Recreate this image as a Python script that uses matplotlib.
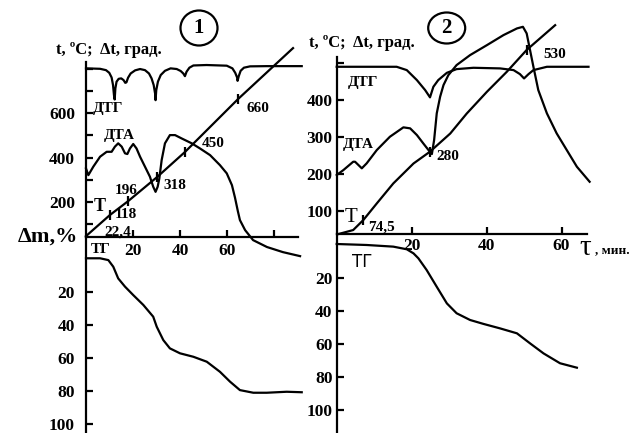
# LIBRARIES

import matplotlib
matplotlib.use("Agg")
import matplotlib.pyplot as plt
from matplotlib.patches import Ellipse
from matplotlib.ticker import FixedLocator, FixedFormatter


# DATA  (time in min, temperature / signal in deg C scale, mass loss in %)

# sample 1
t1_T = [0, 10.2, 17.9, 30.2, 42.1, 64.7, 88.1]
T1 = [47, 142, 204, 312, 425, 663, 892]
T1_events = [1, 2, 3, 4, 5]
T1_labels = ["118", "196", "318", "450", "660"]

t1_dtg = [0, 6.0, 8.5, 9.9, 10.9, 11.5, 11.9, 12.2, 12.5, 13.0, 13.9, 15.0, 16.0,
          16.7, 17.2, 17.9, 19.0, 20.9, 23.0, 25.1, 26.8, 27.9, 28.8, 29.4, 29.6,
          29.9, 30.6, 31.8, 33.6, 36.0, 38.6, 40.3, 41.4, 42.1, 42.8, 44.0, 45.7,
          51.3, 59.9, 62.3, 63.5, 64.3, 64.5, 65.0, 65.8, 67.2, 69.8, 76.9, 91.8]
dtg1 = [801, 799, 793, 781, 760, 726, 681, 661, 711, 741, 754, 756, 748,
        736, 738, 759, 778, 792, 798, 793, 778, 756, 726, 688, 658,
        703, 741, 771, 790, 801, 798, 789, 778, 766, 786, 804, 814,
        816, 813, 801, 781, 760, 745, 766, 790, 804, 810, 811, 811]

t1_dta = [0, 1.0, 3.1, 6.0, 8.8, 10.9, 12.3, 13.7, 15.2, 16.6, 17.6, 18.7, 20.1,
          21.5, 23.0, 25.1, 27.2, 28.6, 29.6, 30.5, 31.2, 32.2, 33.6, 35.7, 37.9,
          40.7, 45.0, 48.5, 52.8, 57.0, 59.9, 62.1, 63.4, 64.6, 65.5, 67.7, 71.1,
          77.0, 83.8, 91.1]
dta1 = [351, 321, 359, 404, 426, 426, 449, 464, 449, 419, 416, 441, 461,
        441, 404, 359, 314, 269, 246, 269, 306, 389, 464, 501, 501,
        486, 464, 441, 411, 366, 329, 276, 220, 160, 119, 74, 29,
        -2, -25, -43]

t1_tg = [0, 6.0, 9.5, 11.6, 13.7, 16.6, 20.1, 24.4, 28.6, 30.1, 32.9, 35.7, 40.0,
         45.7, 51.4, 57.0, 61.3, 65.5, 71.2, 76.9, 85.4, 91.8]
tg1 = [-0.4, -0.4, 0.7, 4.7, 11.8, 16.8, 21.9, 27.9, 35.0, 41.1, 49.2, 54.2, 57.2,
       59.3, 62.3, 68.4, 74.4, 79.5, 81.1, 81.1, 80.5, 80.8]

# sample 2
t2_T = [0.4, 4.4, 7.1, 10.7, 15.1, 20.5, 24.9, 30.3, 34.7, 40.1, 45.4, 50.7, 58.3]
T2 = [37, 48, 75, 120, 174, 228, 260, 309, 363, 422, 476, 535, 602]
T2_events = [2, 6, 11]
T2_labels = ["74,5", "280", "530"]

t2_dtg = [0, 16.0, 18.7, 21.4, 23.6, 24.9, 25.8, 27.1, 29.4, 32.0, 36.5, 43.6,
          47.2, 48.9, 50.0, 51.2, 52.5, 56.1, 67.2]
dtg2 = [489.5, 489.5, 480.5, 453.5, 426.5, 406.8, 435.4, 453.5, 473.2, 483.2,
        486.8, 485.1, 480.5, 469.7, 458, 469.7, 480.5, 489.5, 489.5]

t2_dta = [0, 1.8, 4.4, 4.9, 6.7, 8.0, 10.7, 14.2, 17.8, 19.6, 21.4, 23.1, 24.5,
          25.4, 26.0, 26.7, 27.6, 28.5, 29.8, 32.0, 35.6, 40.1, 44.5, 48.1, 49.7,
          50.7, 51.6, 52.5, 53.8, 56.1, 58.7, 61.4, 64.1, 67.5]
dta2 = [196.8, 210.3, 232.7, 232.7, 214.9, 228.4, 264.3, 300.3, 325.7, 323.0,
        304.9, 282.4, 264.3, 253.5, 291.4, 363.5, 408.4, 440.0, 467.0, 494.1,
        521.1, 548.1, 575.1, 593.2, 597.6, 579.7, 534.6, 489.5, 426.5, 363.5,
        309.5, 264.3, 219.2, 178.6]

t2_tg = [0, 8.0, 15.1, 18.7, 20.5, 21.8, 24.0, 26.7, 29.4, 32.0, 35.6, 39.2,
         43.6, 48.1, 51.6, 55.2, 59.6, 64.1]
tg2 = [-0.8, -0.2, 0.8, 2.4, 4.9, 7.9, 15.0, 25.2, 35.3, 41.3, 45.4, 47.8,
       50.5, 53.5, 59.6, 65.7, 71.7, 74.4]


# STYLE

plt.rcParams["font.family"] = ["Liberation Serif", "DejaVu Serif"]
plt.rcParams["font.weight"] = "bold"
plt.rcParams["axes.linewidth"] = 1.6

W, H = 632, 433
fig = plt.figure(figsize=(W / 100, H / 100), dpi=100)


def px_axes(x0, x1, y0, y1):
    ax = fig.add_axes([x0 / W, 1 - y1 / H, (x1 - x0) / W, (y1 - y0) / H])
    ax.patch.set_alpha(0)
    for s in ["top", "right"]:
        ax.spines[s].set_visible(False)
    ax.tick_params(direction="in", length=5, width=1.6, labelsize=12.5)
    return ax


def fixed_ticks(axis, ticks, labels):
    axis.set_major_locator(FixedLocator(ticks))
    axis.set_major_formatter(FixedFormatter(labels))


line_kw = dict(color="black", lw=1.6, clip_on=False)
ann_kw = dict(textcoords="offset pixels", fontsize=11, ha="center", va="center")
lab_kw = dict(fontsize=11, ha="center", va="center")


# PANEL 1

a1 = px_axes(86, 297.5, 45, 237)
a1.set_xlim(0, 90)
a1.set_ylim(43, 906)
a1.spines["left"].set_bounds(43, 829)
fixed_ticks(a1.yaxis, [100, 200, 300, 400, 500, 600, 700, 800],
            ["", "200", "", "400", "", "600", "", ""])
fixed_ticks(a1.xaxis, [20, 40, 60, 80], ["20", "40", "60", ""])
a1.tick_params(axis="y", pad=8)
a1.tick_params(axis="x", pad=4)

a1.plot(t1_T, T1, **line_kw)
a1.plot(t1_dtg, dtg1, **line_kw)
a1.plot(t1_dta, dta1, **line_kw)
ev_t = [t1_T[i] for i in T1_events]
ev_T = [T1[i] for i in T1_events]
a1.plot(ev_t, ev_T, ls="none", marker="|", ms=7, mew=1.6, color="black")
for x, y, lab, off in zip(ev_t, ev_T, T1_labels,
                          [(16, 0), (-2, 11), (18, -8), (28, 9), (20, -9)]):
    a1.annotate(lab, (x, y), xytext=off, **ann_kw)
a1.annotate("22,4", (t1_T[0], T1[0]), xytext=(32, 4), **ann_kw)
a1.text(9.4, 622, "ДТГ", **lab_kw)
a1.text(14.0, 497, "ДТА", **lab_kw)
a1.text(6.0, 178, "T", fontsize=13, ha="center", va="center")

b1 = px_axes(86, 297.5, 237, 433)
b1.set_xlim(0, 90)
b1.set_ylim(105.5, -13.3)
b1.spines["bottom"].set_visible(False)
b1.set_xticks([])
fixed_ticks(b1.yaxis, [20, 40, 60, 80, 100], ["20", "40", "60", "80", "100"])
b1.tick_params(axis="y", pad=8)
b1.plot(t1_tg, tg1, **line_kw)
b1.text(6.4, -6, "ТГ", **lab_kw)


# PANEL 2

a2 = px_axes(336.7, 587, 20, 234.3)
a2.set_xlim(0, 66.8)
a2.set_ylim(36.5, 616)
a2.spines["left"].set_bounds(36.5, 516)
fixed_ticks(a2.yaxis, [100, 200, 300, 400, 500], ["100", "200", "300", "400", ""])
fixed_ticks(a2.xaxis, [20, 40, 60], ["20", "40", "60"])
a2.tick_params(axis="y", pad=3)
a2.tick_params(axis="x", pad=3)

a2.plot(t2_T, T2, **line_kw)
a2.plot(t2_dtg, dtg2, **line_kw)
a2.plot(t2_dta, dta2, **line_kw)
ev_t = [t2_T[i] for i in T2_events]
ev_T = [T2[i] for i in T2_events]
a2.plot(ev_t, ev_T, ls="none", marker="|", ms=7, mew=1.6, color="black")
for x, y, lab, off in zip(ev_t, ev_T, T2_labels, [(18, -7), (18, -5), (28, -5)]):
    a2.annotate(lab, (x, y), xytext=off, **ann_kw)
a2.text(7.0, 448, "ДТГ", **lab_kw)
a2.text(5.7, 278, "ДТА", **lab_kw)
a2.text(3.8, 83, "T", fontsize=15, fontweight="normal", ha="center", va="center")

b2 = px_axes(336.7, 587, 234.3, 433)
b2.set_xlim(0, 66.8)
b2.set_ylim(114.1, -6.7)
b2.spines["bottom"].set_visible(False)
b2.set_xticks([])
fixed_ticks(b2.yaxis, [20, 40, 60, 80, 100], ["20", "40", "60", "80", "100"])
b2.tick_params(axis="y", pad=3)
b2.plot(t2_tg, tg2, **line_kw)
b2.text(6.8, 10.2, "ТГ", fontsize=12, fontweight="normal",
        family=["DejaVu Sans"], ha="center", va="center")


# FIGURE TEXT

fig.text(109 / W, 1 - 50 / H, "t, ºC;  Δt, град.", fontsize=12, ha="center", va="center")
fig.text(362 / W, 1 - 43 / H, "t, ºC;  Δt, град.", fontsize=12, ha="center", va="center")
fig.text(48 / W, 1 - 237 / H, "Δm,%", fontsize=16, ha="center", va="center")
fig.text(585 / W, 1 - 248 / H, "τ", fontsize=21, fontweight="normal", ha="center", va="center")
fig.text(612 / W, 1 - 250 / H, ", мин.", fontsize=9.5, ha="center", va="center")

for cx, cy, w, h, num in [(199, 28, 37, 35, "1"), (446.7, 28, 37, 31, "2")]:
    fig.add_artist(Ellipse((cx / W, 1 - cy / H), w / W, h / H, transform=fig.transFigure,
                           fill=False, lw=1.6, color="black"))
    fig.text(cx / W, 1 - cy / H, num, fontsize=15, ha="center", va="center")

fig.savefig("out.png", dpi=100)
